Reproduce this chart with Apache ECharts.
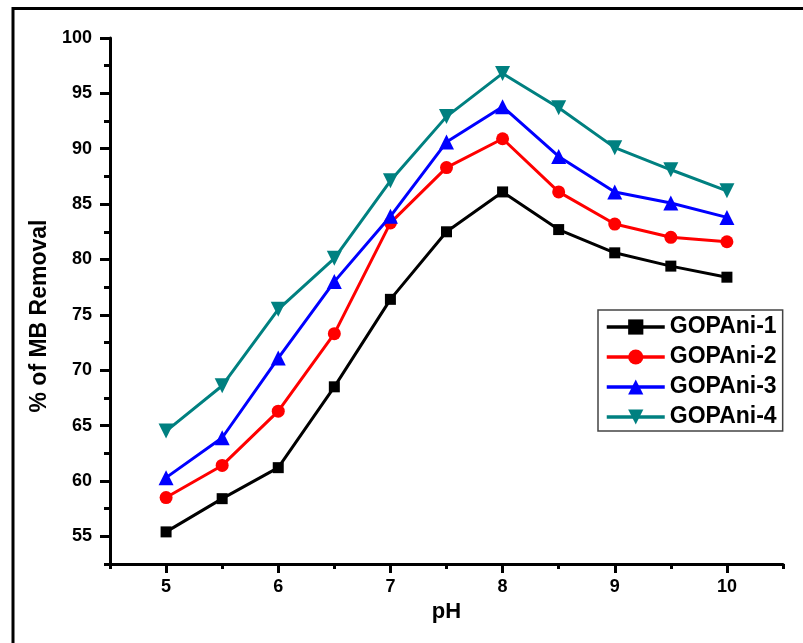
<!DOCTYPE html>
<html>
<head>
<meta charset="utf-8">
<script src="https://cdn.jsdelivr.net/npm/echarts@6/dist/echarts.min.js"></script>
<style>
  html, body { margin: 0; padding: 0; background: #fff; }
  #chart { width: 803px; height: 643px; }
</style>
</head>
<body>
<div id="chart"></div>
<script>
// pH values tested
const phValues = [5, 5.5, 6, 6.5, 7, 7.5, 8, 8.5, 9, 9.5, 10];

// Percentage of methylene blue removed for each composite
const gopani1 = [55.4, 58.4, 61.2, 68.5, 76.4, 82.5, 86.1, 82.7, 80.6, 79.4, 78.4];
const gopani2 = [58.5, 61.4, 66.3, 73.3, 83.3, 88.3, 90.9, 86.1, 83.2, 82.0, 81.6];
const gopani3 = [60.3, 63.9, 71.1, 78.0, 83.9, 90.6, 93.8, 89.3, 86.1, 85.1, 83.8];
const gopani4 = [64.5, 68.6, 75.5, 80.1, 87.1, 92.9, 96.8, 93.7, 90.1, 88.1, 86.2];

const seriesNames = ['GOPAni-1', 'GOPAni-2', 'GOPAni-3', 'GOPAni-4'];

// Axis tick positions
const xMajorTicks = [5, 6, 7, 8, 9, 10];
const yMajorTicks = [55, 60, 65, 70, 75, 80, 85, 90, 95, 100];

const FONT = '"Liberation Sans", Arial, sans-serif';

function pairs(values) {
  return phValues.map((x, i) => [x, values[i]]);
}

const chart = echarts.init(document.getElementById('chart'), null, { renderer: 'canvas' });

const markerStyles = [
  { color: '#000000', symbol: 'rect', size: 11, rotate: 0 },
  { color: '#ff0000', symbol: 'circle', size: 13, rotate: 0 },
  { color: '#0000ff', symbol: 'triangle', size: 15, rotate: 0 },
  { color: '#008080', symbol: 'triangle', size: 15, rotate: 180 }
];
const dataSets = [gopani1, gopani2, gopani3, gopani4];

const series = dataSets.map((vals, i) => ({
  name: seriesNames[i],
  type: 'line',
  xAxisIndex: 0,
  yAxisIndex: 0,
  data: pairs(vals),
  symbol: markerStyles[i].symbol,
  symbolSize: markerStyles[i].size,
  symbolRotate: markerStyles[i].rotate,
  showAllSymbol: true,
  lineStyle: { color: markerStyles[i].color, width: 3 },
  itemStyle: { color: markerStyles[i].color, borderWidth: 0 },
  emphasis: { disabled: true },
  animation: false,
  z: 3 + i
}));

const axisLine = { show: true, lineStyle: { color: '#000', width: 3 } };

chart.setOption({
  animation: false,
  backgroundColor: '#fff',
  grid: { left: 110, right: 20, top: 38, bottom: 79, containLabel: false },
  graphic: [{
    type: 'rect',
    shape: { x: 13, y: 8.5, width: 900, height: 800 },
    style: { fill: 'none', stroke: '#000', lineWidth: 3 },
    silent: true,
    z: 0
  }],
  legend: {
    left: 598,
    top: 310,
    orient: 'vertical',
    data: seriesNames,
    itemWidth: 58,
    itemHeight: 19,
    itemGap: 6,
    padding: [5, 6, 2, 7],
    borderColor: '#444',
    borderWidth: 1.5,
    backgroundColor: '#fff',
    lineStyle: { width: 3.5 },
    textStyle: { fontFamily: FONT, fontWeight: 'bold', fontSize: 23, color: '#000', lineHeight: 24 },
    selectedMode: false
  },
  xAxis: [{
    type: 'value',
    min: 4.5,
    max: 10.5,
    interval: 0.5,
    name: 'pH',
    nameLocation: 'middle',
    nameGap: 37,
    nameTextStyle: { fontFamily: FONT, fontWeight: 'bold', fontSize: 22, color: '#000' },
    axisLine: axisLine,
    axisTick: { show: true, inside: false, length: 5, lineStyle: { color: '#000', width: 3 } },
    axisLabel: {
      fontFamily: FONT, fontWeight: 'bold', fontSize: 18, color: '#000', margin: 14,
      formatter: v => (Number.isInteger(v) ? String(v) : '')
    },
    splitLine: { show: false }
  }, {
    type: 'value',
    min: 4.5,
    max: 10.5,
    interval: 0.5,
    position: 'bottom',
    axisLine: { show: false },
    axisTick: { show: true, inside: false, length: 9, customValues: xMajorTicks, lineStyle: { color: '#000', width: 3 } },
    axisLabel: { show: false },
    splitLine: { show: false }
  }],
  yAxis: [{
    type: 'value',
    min: 52.5,
    max: 100,
    interval: 2.5,
    name: '% of MB Removal',
    nameLocation: 'middle',
    nameGap: 58,
    nameRotate: 90,
    nameTextStyle: { fontFamily: FONT, fontWeight: 'bold', fontSize: 23, color: '#000', padding: [0, 30, 0, 0] },
    axisLine: axisLine,
    axisTick: { show: true, inside: false, length: 6, lineStyle: { color: '#000', width: 3 } },
    axisLabel: {
      fontFamily: FONT, fontWeight: 'bold', fontSize: 18, color: '#000', margin: 18,
      formatter: v => (v % 5 === 0 ? String(v) : '')
    },
    splitLine: { show: false }
  }, {
    type: 'value',
    min: 52.5,
    max: 100,
    interval: 2.5,
    position: 'left',
    axisLine: { show: false },
    axisTick: { show: true, inside: false, length: 10, customValues: yMajorTicks, lineStyle: { color: '#000', width: 3 } },
    axisLabel: { show: false },
    splitLine: { show: false }
  }],
  series: series
});
</script>
</body>
</html>
